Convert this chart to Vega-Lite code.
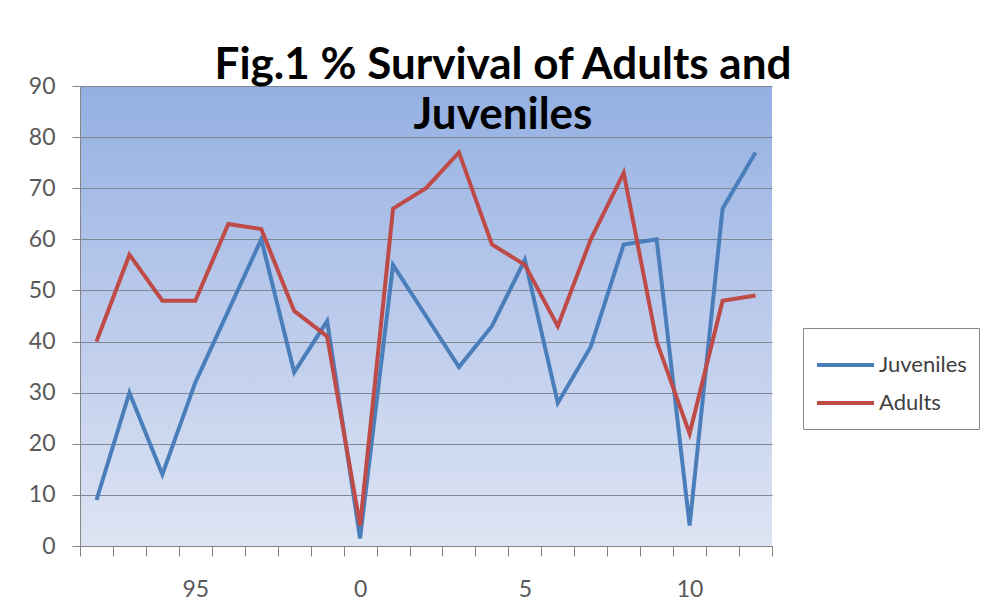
{
  "$schema": "https://vega.github.io/schema/vega-lite/v6.json",
  "width": 692,
  "height": 460,
  "autosize": {"type": "none"},
  "padding": {"left": 80, "top": 86, "right": 217, "bottom": 59},
  "background": "white",
  "config": {
    "font": "Lato",
    "view": {
      "stroke": null,
      "fill": {
        "gradient": "linear",
        "x1": 0, "y1": 0, "x2": 0, "y2": 1,
        "stops": [
          {"offset": 0, "color": "#93b0e2"},
          {"offset": 0.5, "color": "#bccbec"},
          {"offset": 1, "color": "#dde4f3"}
        ]
      }
    }
  },
  "title": {
    "text": ["Fig.1 % Survival of Adults and", "Juveniles"],
    "font": "Lato",
    "fontSize": 44,
    "fontWeight": "bold",
    "color": "#000000",
    "anchor": "middle",
    "frame": "group",
    "dx": 77,
    "baseline": "top",
    "lineHeight": 50,
    "offset": -63
  },
  "data": {
    "values": [
      {"year": "92", "series": "Juveniles", "value": 9},
      {"year": "93", "series": "Juveniles", "value": 30},
      {"year": "94", "series": "Juveniles", "value": 14},
      {"year": "95", "series": "Juveniles", "value": 32},
      {"year": "96", "series": "Juveniles", "value": 46},
      {"year": "97", "series": "Juveniles", "value": 60},
      {"year": "98", "series": "Juveniles", "value": 34},
      {"year": "99", "series": "Juveniles", "value": 44},
      {"year": "0", "series": "Juveniles", "value": 1.5},
      {"year": "1", "series": "Juveniles", "value": 55},
      {"year": "2", "series": "Juveniles", "value": 45},
      {"year": "3", "series": "Juveniles", "value": 35},
      {"year": "4", "series": "Juveniles", "value": 43},
      {"year": "5", "series": "Juveniles", "value": 56},
      {"year": "6", "series": "Juveniles", "value": 28},
      {"year": "7", "series": "Juveniles", "value": 39},
      {"year": "8", "series": "Juveniles", "value": 59},
      {"year": "9", "series": "Juveniles", "value": 60},
      {"year": "10", "series": "Juveniles", "value": 4},
      {"year": "11", "series": "Juveniles", "value": 66},
      {"year": "12", "series": "Juveniles", "value": 77},
      {"year": "92", "series": "Adults", "value": 40},
      {"year": "93", "series": "Adults", "value": 57},
      {"year": "94", "series": "Adults", "value": 48},
      {"year": "95", "series": "Adults", "value": 48},
      {"year": "96", "series": "Adults", "value": 63},
      {"year": "97", "series": "Adults", "value": 62},
      {"year": "98", "series": "Adults", "value": 46},
      {"year": "99", "series": "Adults", "value": 41},
      {"year": "0", "series": "Adults", "value": 4},
      {"year": "1", "series": "Adults", "value": 66},
      {"year": "2", "series": "Adults", "value": 70},
      {"year": "3", "series": "Adults", "value": 77},
      {"year": "4", "series": "Adults", "value": 59},
      {"year": "5", "series": "Adults", "value": 55},
      {"year": "6", "series": "Adults", "value": 43},
      {"year": "7", "series": "Adults", "value": 60},
      {"year": "8", "series": "Adults", "value": 73},
      {"year": "9", "series": "Adults", "value": 40},
      {"year": "10", "series": "Adults", "value": 22},
      {"year": "11", "series": "Adults", "value": 48},
      {"year": "12", "series": "Adults", "value": 49}
    ]
  },
  "mark": {"type": "line", "strokeWidth": 4, "strokeJoin": "miter", "strokeMiterLimit": 4},
  "encoding": {
    "x": {
      "field": "year",
      "type": "ordinal",
      "sort": null,
      "scale": {"paddingInner": 0, "paddingOuter": 0},
      "axis": {
        "title": null,
        "labelAngle": 0,
        "labelExpr": "indexof(['95','0','5','10'], datum.label) >= 0 ? datum.label : ''",
        "labelFont": "Lato",
        "labelFontSize": 23,
        "labelColor": "#595959",
        "labelPadding": 22,
        "tickBand": "extent",
        "tickSize": 10,
        "tickColor": "#868686",
        "domainColor": "#868686",
        "grid": false
      }
    },
    "y": {
      "field": "value",
      "type": "quantitative",
      "scale": {"domain": [0, 90], "nice": false},
      "axis": {
        "title": null,
        "values": [0, 10, 20, 30, 40, 50, 60, 70, 80, 90],
        "labelFont": "Lato",
        "labelFontSize": 23,
        "labelColor": "#595959",
        "labelPadding": 17,
        "tickSize": 8,
        "tickColor": "#868686",
        "domainColor": "#868686",
        "grid": true,
        "gridColor": "#7f8795",
        "gridWidth": 1
      }
    },
    "color": {
      "field": "series",
      "type": "nominal",
      "sort": ["Juveniles", "Adults"],
      "scale": {"domain": ["Juveniles", "Adults"], "range": ["#4a7ebb", "#be4b48"]},
      "legend": {
        "title": " ",
        "titleFontSize": 8,
        "titlePadding": 3,
        "orient": "none",
        "legendX": 723,
        "legendY": 242,
        "symbolType": "stroke",
        "symbolSize": 3249,
        "symbolStrokeWidth": 4,
        "clipHeight": 28,
        "labelFont": "Lato",
        "labelFontSize": 22,
        "labelColor": "#404040",
        "labelOffset": 3,
        "rowPadding": 10,
        "padding": 12,
        "strokeColor": "#8a8a8a",
        "fillColor": "white"
      }
    }
  }
}
